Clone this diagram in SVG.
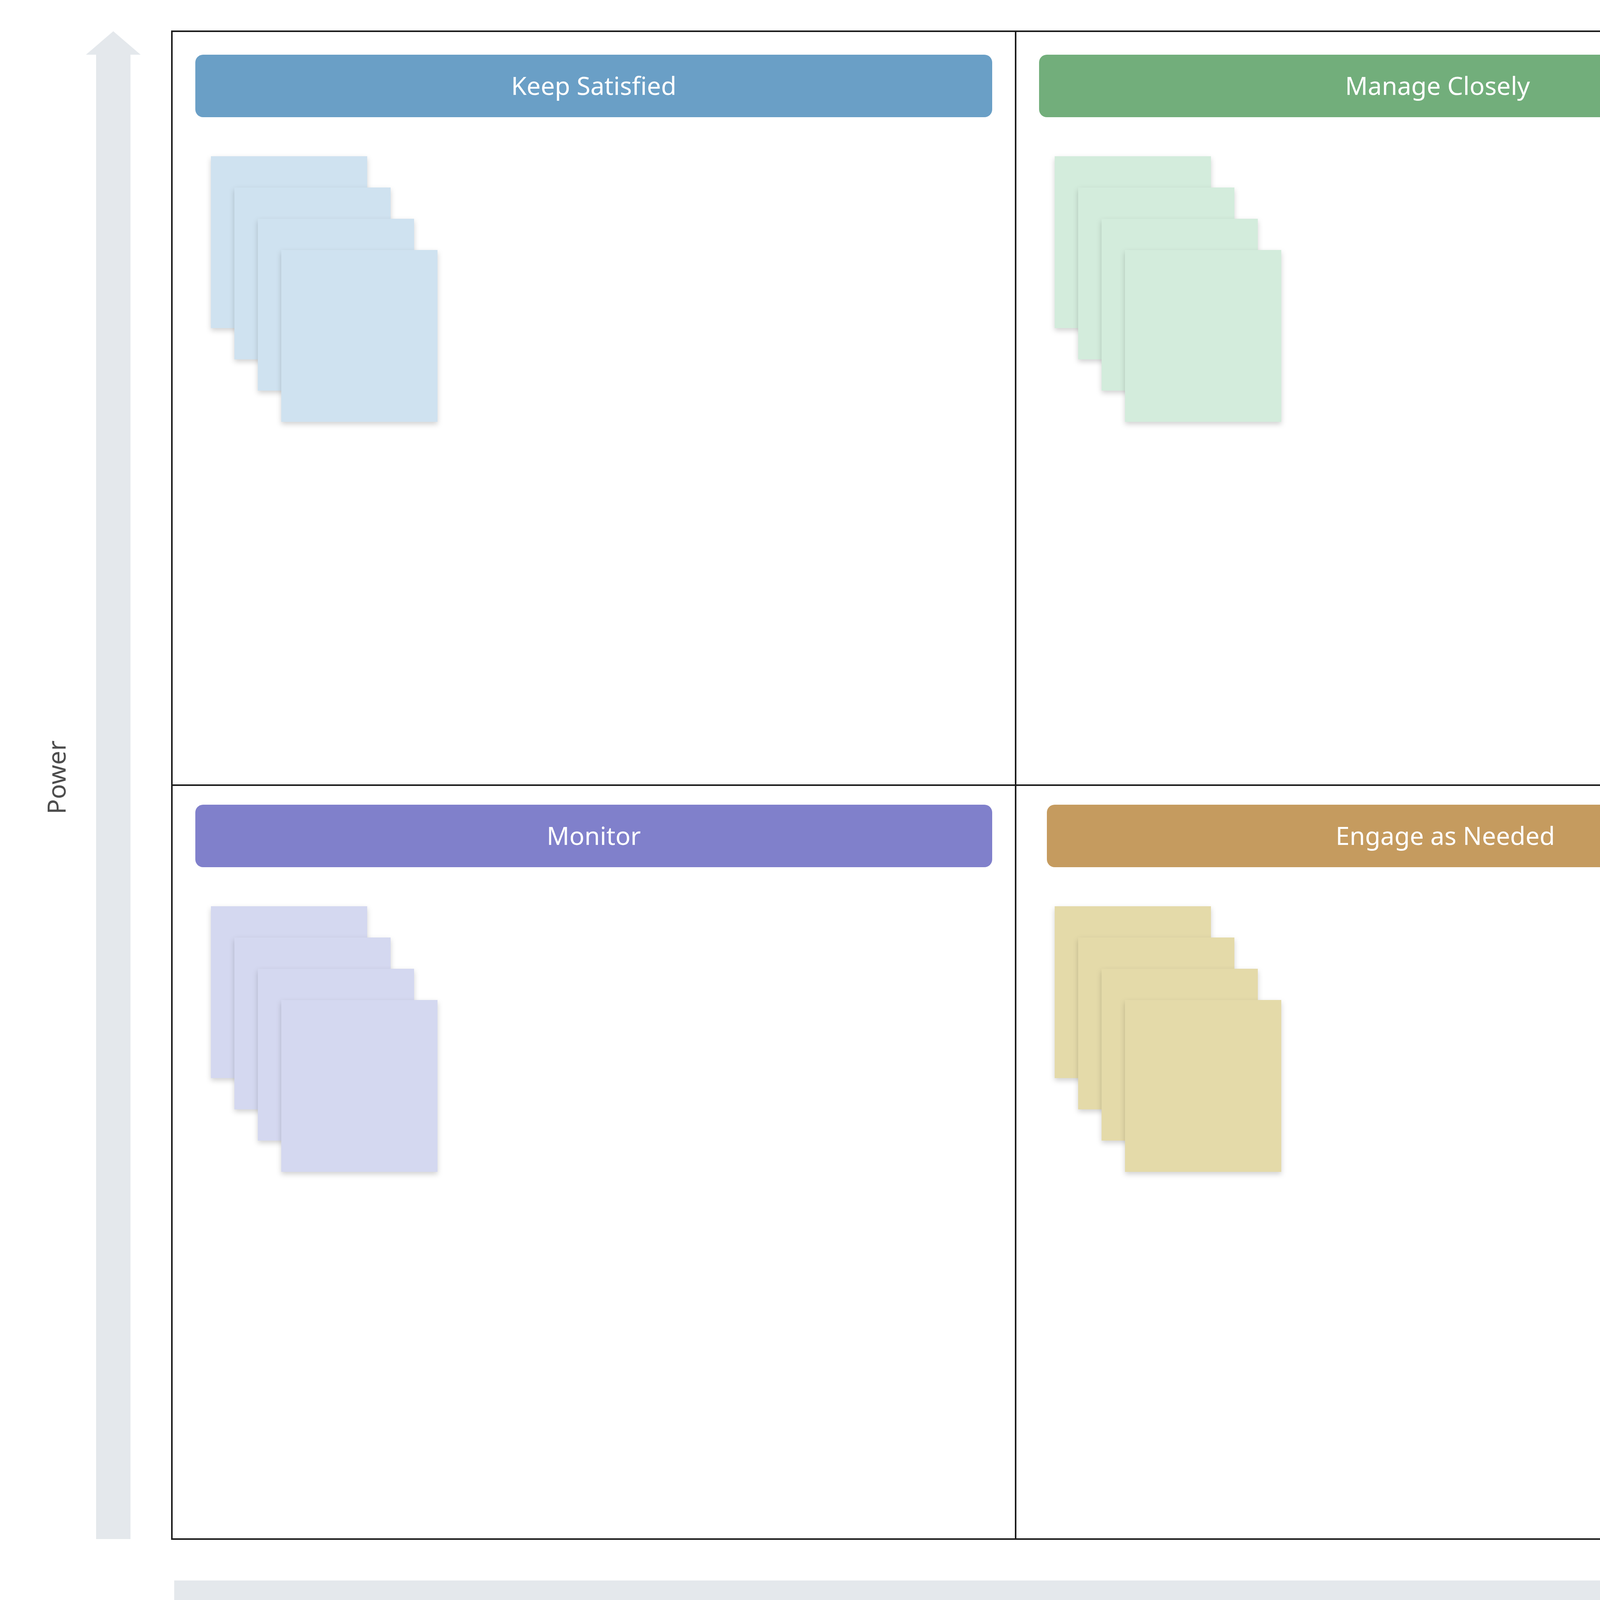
<svg xmlns="http://www.w3.org/2000/svg" width="4860" height="4400" viewBox="0 0 4860 4400">
<style>
.frame{fill:none;stroke:#1c1c1c;stroke-width:4}
.div{stroke:#1c1c1c;stroke-width:4}
.axis{fill:#e4e8ec}
.hdr-t{font-family:"Noto Sans","Open Sans","Liberation Sans",sans-serif;font-size:64px;fill:#ffffff;text-anchor:middle}
.lbl{font-family:"Noto Sans","Open Sans","Liberation Sans",sans-serif;font-size:64px;fill:#4d4d4d;text-anchor:middle}
.blue .h{fill:#6a9fc6}.blue .s{fill:#cfe2f0}
.green .h{fill:#72ae7b}.green .s{fill:#d3ecdc}
.purple .h{fill:#8080cb}.purple .s{fill:#d4d8f0}
.tan .h{fill:#c59b5f}.tan .s{fill:#e4daa9}
.s{filter:url(#sh)}
</style>
<defs>
<filter id="sh" x="-20%" y="-20%" width="140%" height="140%">
<feDropShadow dx="0" dy="6" stdDeviation="7" flood-color="#000" flood-opacity="0.18"/>
</filter>
</defs>
<rect width="4860" height="4400" fill="#ffffff"/>
<g id="axes">
<polygon class="axis" points="290,80 360,140 334,140 334,3940 246,3940 246,140 220,140"/>
<polygon class="axis" points="446,4046 4720,4046 4720,4020 4780,4090 4720,4160 4720,4134 446,4134"/>
<text class="lbl" transform="translate(168,1990) rotate(-90)">Power</text>
<text class="lbl" x="2620" y="4248">Interest</text>
</g>
<g id="grid">
<rect class="frame" x="440" y="80" width="4320" height="3860"/>
<line class="div" x1="2600" y1="80" x2="2600" y2="3940"/>
<line class="div" x1="440" y1="2010" x2="4760" y2="2010"/>
</g>
<g id="keep-satisfied" class="blue">
<rect class="h" x="500" y="140" width="2040" height="160" rx="20"/>
<text class="hdr-t" x="1520" y="243">Keep Satisfied</text>
<rect class="s" x="540" y="400" width="400" height="440"/>
<rect class="s" x="600" y="480" width="400" height="440"/>
<rect class="s" x="660" y="560" width="400" height="440"/>
<rect class="s" x="720" y="640" width="400" height="440"/>
</g>
<g id="manage-closely" class="green">
<rect class="h" x="2660" y="140" width="2040" height="160" rx="20"/>
<text class="hdr-t" x="3680" y="243">Manage Closely</text>
<rect class="s" x="2700" y="400" width="400" height="440"/>
<rect class="s" x="2760" y="480" width="400" height="440"/>
<rect class="s" x="2820" y="560" width="400" height="440"/>
<rect class="s" x="2880" y="640" width="400" height="440"/>
</g>
<g id="monitor" class="purple">
<rect class="h" x="500" y="2060" width="2040" height="160" rx="20"/>
<text class="hdr-t" x="1520" y="2163">Monitor</text>
<rect class="s" x="540" y="2320" width="400" height="440"/>
<rect class="s" x="600" y="2400" width="400" height="440"/>
<rect class="s" x="660" y="2480" width="400" height="440"/>
<rect class="s" x="720" y="2560" width="400" height="440"/>
</g>
<g id="engage-as-needed" class="tan">
<rect class="h" x="2680" y="2060" width="2040" height="160" rx="20"/>
<text class="hdr-t" x="3700" y="2163">Engage as Needed</text>
<rect class="s" x="2700" y="2320" width="400" height="440"/>
<rect class="s" x="2760" y="2400" width="400" height="440"/>
<rect class="s" x="2820" y="2480" width="400" height="440"/>
<rect class="s" x="2880" y="2560" width="400" height="440"/>
</g>
</svg>
